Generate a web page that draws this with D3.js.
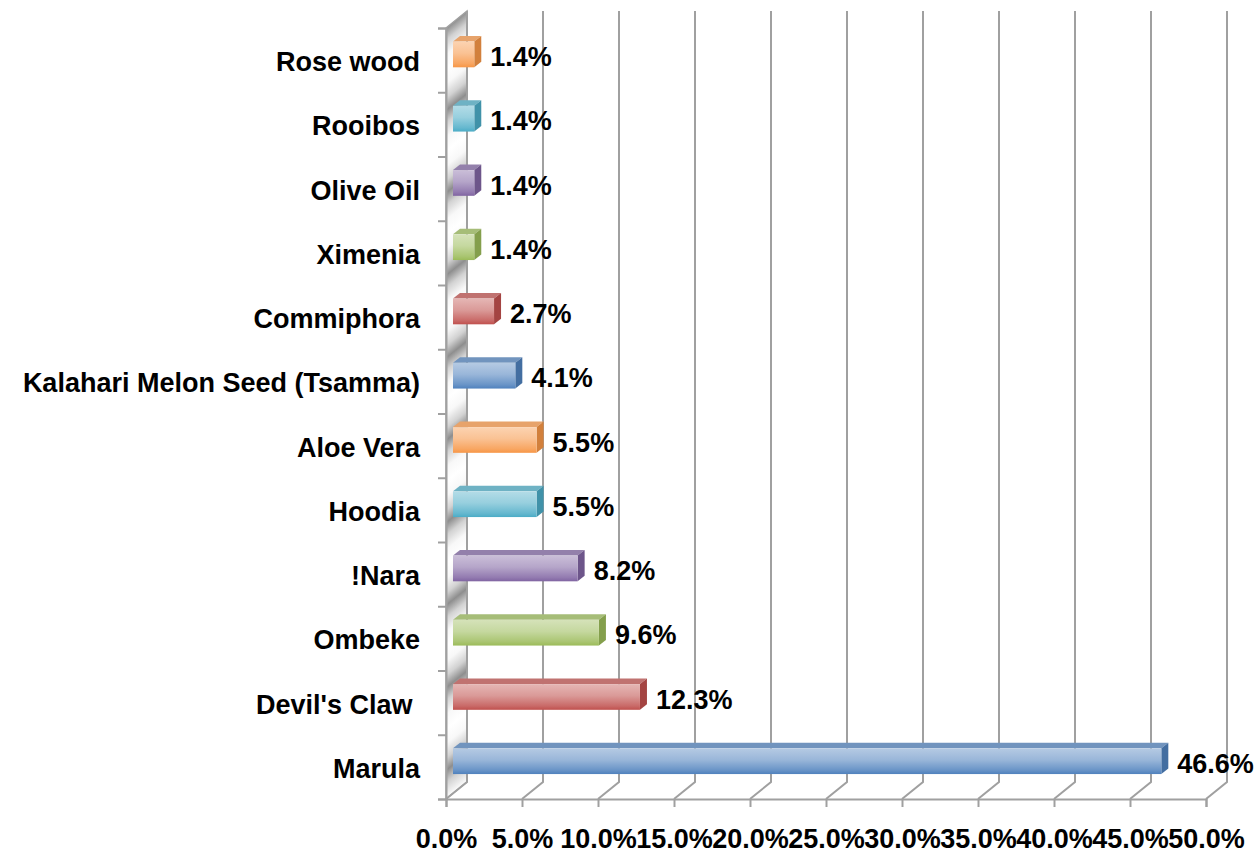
<!DOCTYPE html>
<html>
<head>
<meta charset="utf-8">
<script src="https://cdn.jsdelivr.net/npm/d3@7/dist/d3.min.js"></script>
<style>
  html, body { margin: 0; padding: 0; background: #fff; }
  svg { display: block; }
  text { font-family: "Liberation Sans", Arial, sans-serif; font-weight: bold; fill: #000; white-space: pre; }
</style>
</head>
<body>
<svg id="chart" width="1258" height="859"></svg>
<script>
// Categories listed top to bottom as they appear on the axis
const categories = ["Rose wood", "Rooibos", "Olive Oil", "Ximenia", "Commiphora",
  "Kalahari Melon Seed (Tsamma)", "Aloe Vera", "Hoodia", "!Nara", "Ombeke",
  "Devil's Claw ", "Marula"];
// Share of products (%) for each category
const values = [1.4, 1.4, 1.4, 1.4, 2.7, 4.1, 5.5, 5.5, 8.2, 9.6, 12.3, 46.6];
// Value axis tick labels (%)
const ticks = [0, 5, 10, 15, 20, 25, 30, 35, 40, 45, 50];
// Office palette, cycled bottom to top
const palette = ["#4F81BD", "#C0504D", "#9BBB59", "#8064A2", "#4BACC6", "#F79646"];

const svg = d3.select("#chart");
const defs = svg.append("defs");
const fontSize = "27px";

// plot geometry (front plane) and 3-D depth vector
const plotL = 446, plotR = 1206, plotT = 28, plotB = 799;
const depth = { dx: 21, dy: -17 };
const barFront = 1 / 3, barBack = 2 / 3;

const x = d3.scaleLinear().domain([0, 50]).range([plotL, plotR]);
const y = d3.scaleBand().domain(categories).range([plotT, plotB])
  .paddingInner(0.6).paddingOuter(0.3);
const yEdge = d3.scaleLinear().domain([0, categories.length]).range([plotT, plotB]);

const fmt = v => v.toFixed(1) + "%";

// shiny striped fill for the side wall
const wall = defs.append("linearGradient")
  .attr("id", "wallFill").attr("gradientUnits", "userSpaceOnUse")
  .attr("spreadMethod", "reflect")
  .attr("x1", plotL).attr("y1", plotT)
  .attr("x2", plotL + 0.63 * 32).attr("y2", plotT + 0.78 * 32);
[[0, "#8e8e8e"], [0.3, "#d2d2d2"], [0.65, "#f8f8f8"], [1, "#ffffff"]]
  .forEach(([o, c]) => wall.append("stop").attr("offset", o).attr("stop-color", c));

const mix = (c, w, t) => d3.interpolateRgb(c, w)(t);

// gradients per bar colour
palette.forEach((c, i) => {
  const g = defs.append("linearGradient").attr("id", "front" + i)
    .attr("x1", 0).attr("y1", 0).attr("x2", 0).attr("y2", 1);
  [[0, mix(c, "#fff", 0.58)], [0.45, mix(c, "#fff", 0.42)], [0.85, mix(c, "#fff", 0.15)], [1, c]]
    .forEach(([o, col]) => g.append("stop").attr("offset", o).attr("stop-color", col));
});
const topColor = c => mix(c, "#c0c0c0", 0.3);
const sideColor = c => d3.color(c).darker(0.45).formatHex();

const gridColor = "#a0a0a0";

// side wall
svg.append("path")
  .attr("d", `M${plotL},${plotT}L${plotL + depth.dx},${plotT + depth.dy}L${plotL + depth.dx},${plotB + depth.dy}L${plotL},${plotB}Z`)
  .attr("fill", "url(#wallFill)")
  .attr("stroke", gridColor).attr("stroke-width", 1.5);

// gridlines on the back wall, running down across the floor to the front edge
const grid = svg.append("g").attr("fill", "none").attr("stroke", gridColor).attr("stroke-width", 2);
ticks.forEach(t => {
  const fx = x(t);
  grid.append("path")
    .attr("d", `M${fx + depth.dx},${plotT + depth.dy}L${fx + depth.dx},${plotB + depth.dy}L${fx},${plotB}`);
});

// front value axis with tick marks and labels
const xAxis = svg.append("g").attr("transform", `translate(0,${plotB})`)
  .call(d3.axisBottom(x).tickValues(ticks).tickFormat(fmt).tickSize(8).tickPadding(22));
xAxis.attr("font-family", null).attr("font-size", null);
xAxis.select(".domain").attr("stroke", gridColor).attr("stroke-width", 2);
xAxis.selectAll(".tick line").attr("stroke", gridColor).attr("stroke-width", 2);
xAxis.selectAll(".tick text").style("font-size", fontSize).attr("fill", "#000");

// category axis: tick marks on category boundaries
const yAxis = svg.append("g").attr("transform", `translate(${plotL},0)`)
  .call(d3.axisLeft(yEdge).tickValues(d3.range(categories.length + 1)).tickFormat("").tickSize(8));
yAxis.select(".domain").attr("stroke", gridColor).attr("stroke-width", 2);
yAxis.selectAll(".tick line").attr("stroke", gridColor).attr("stroke-width", 2);

// category labels
svg.append("g").selectAll("text").data(categories).join("text")
  .attr("x", 420)
  .attr("y", d => y(d) + y.bandwidth() / 2 + 2)
  .attr("text-anchor", "end")
  .attr("dominant-baseline", "central")
  .style("font-size", fontSize)
  .text(d => d);

// 3-D bars
const fx0 = depth.dx * barFront, fy0 = depth.dy * barFront;
const bdx = depth.dx * (barBack - barFront), bdy = depth.dy * (barBack - barFront);
const n = categories.length;
const bars = svg.append("g").selectAll("g").data(categories).join("g");
bars.each(function (d, i) {
  const g = d3.select(this);
  const ci = (n - 1 - i) % palette.length;
  const c = palette[ci];
  const x0 = x(0) + fx0, x1 = x(values[i]) + fx0;
  const y0 = y(d) + fy0, y1 = y(d) + y.bandwidth() + fy0;
  g.append("path")
    .attr("d", `M${x0},${y0}L${x0 + bdx},${y0 + bdy}L${x1 + bdx},${y0 + bdy}L${x1},${y0}Z`)
    .attr("fill", topColor(c));
  g.append("path")
    .attr("d", `M${x1},${y0}L${x1 + bdx},${y0 + bdy}L${x1 + bdx},${y1 + bdy}L${x1},${y1}Z`)
    .attr("fill", sideColor(c));
  g.append("rect")
    .attr("x", x0).attr("y", y0).attr("width", x1 - x0).attr("height", y1 - y0)
    .attr("fill", `url(#front${ci})`);
  g.append("text")
    .attr("x", x1 + bdx + 9)
    .attr("y", y(d) + y.bandwidth() / 2 - 3)
    .attr("dominant-baseline", "central")
    .style("font-size", fontSize)
    .text(fmt(values[i]));
});
</script>
</body>
</html>
